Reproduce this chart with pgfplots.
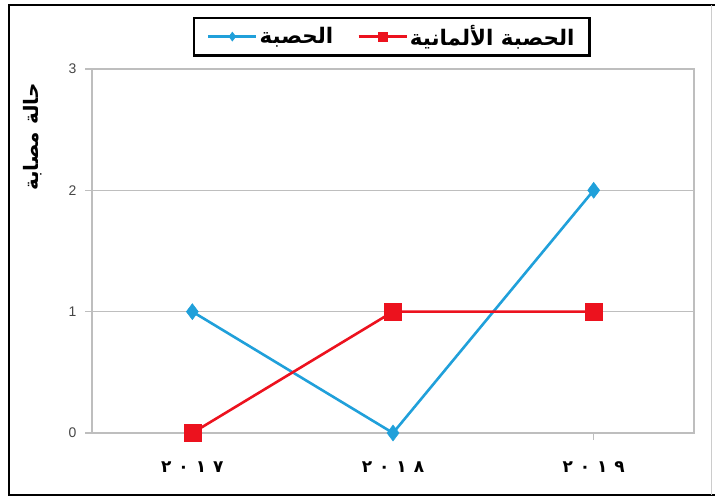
\documentclass[border=0pt]{standalone}
\usepackage{fontspec}
\usepackage{pgfplots}
\pgfplotsset{compat=1.18}
\setmainfont{Liberation Sans}
\newfontfamily\arabicfont[Script=Arabic]{DejaVu Sans}
\TeXXeTstate=1

\definecolor{measles}{RGB}{32,160,218}
\definecolor{rubella}{RGB}{236,18,30}
\definecolor{gridgray}{RGB}{190,190,190}
\definecolor{ticktext}{RGB}{70,70,70}

\pgfplotstableread{
x measles rubella
0 1 0
1 0 1
2 2 1
}\cases

\newcommand{\yr}[4]{\arabicfont\bfseries #1\hspace{7bp}#2\hspace{7bp}#3\hspace{7bp}#4}

\begin{document}
\begin{tikzpicture}[x=1bp,y=1bp]
\path[use as bounding box] (0,0) rectangle (715,498);
% outer frame
\draw[line width=2.6bp, line cap=rect] (714,3) -- (9,3) -- (9,493) -- (714,493);
\draw[line width=0.8bp, gray!40] (711,3) -- (711,493);

\begin{axis}[
  at={(92bp,65bp)}, anchor=south west,
  scale only axis, width=602bp, height=364bp,
  xmin=-0.5, xmax=2.5, ymin=0, ymax=3,
  xtick={0,1,2},
  xticklabels={{\yr{٢}{٠}{١}{٧}},{\yr{٢}{٠}{١}{٨}},{\yr{٢}{٠}{١}{٩}}},
  xticklabel style={font=\fontsize{17}{20}\selectfont, yshift=-18bp},
  ytick={0,1,2,3},
  yticklabel style={font=\fontsize{14}{16}\selectfont, text=ticktext, xshift=-5bp},
  /pgf/number format/assume math mode=true,
  xtick pos=lower, ytick pos=left,
  axis line style={gridgray, line width=1.3bp},
  tick style={gridgray, line width=1.3bp},
  tick align=outside, major tick length=7bp,
  ymajorgrids, major grid style={gridgray, line width=1.3bp},
  clip=false,
  legend columns=2,
  legend style={at={(0.498,1.089)}, anchor=center, draw=black, line width=2.2bp,
    font=\fontsize{21.5}{23}\selectfont, inner xsep=13bp, inner ysep=6bp,
    /tikz/every even column/.append style={column sep=22bp}},
  legend image code/.code={
    \draw[#1, mark size=4.5bp, line width=2.6bp, mark repeat=2, mark phase=2]
      plot coordinates {(0bp,0bp) (24bp,0bp) (48bp,0bp)};},
]
\addplot[color=measles, line width=2.6bp, mark=diamond*, mark size=8bp,
  mark options={line width=0.5bp}] table[x=x, y=measles] {\cases};
\addlegendentry{\arabicfont\bfseries\beginR الحصبة\endR}
\addplot[color=rubella, line width=2.6bp, mark=square*, mark size=8.5bp,
  mark options={line width=0.5bp}] table[x=x, y=rubella] {\cases};
\addlegendentry{\arabicfont\bfseries\beginR الحصبة الألمانية\endR}
\end{axis}

% vertical axis title
\node[rotate=90, font=\arabicfont\bfseries\fontsize{20}{22}\selectfont] at (33,361) {\beginR حالة مصابة\endR};
\end{tikzpicture}
\end{document}
